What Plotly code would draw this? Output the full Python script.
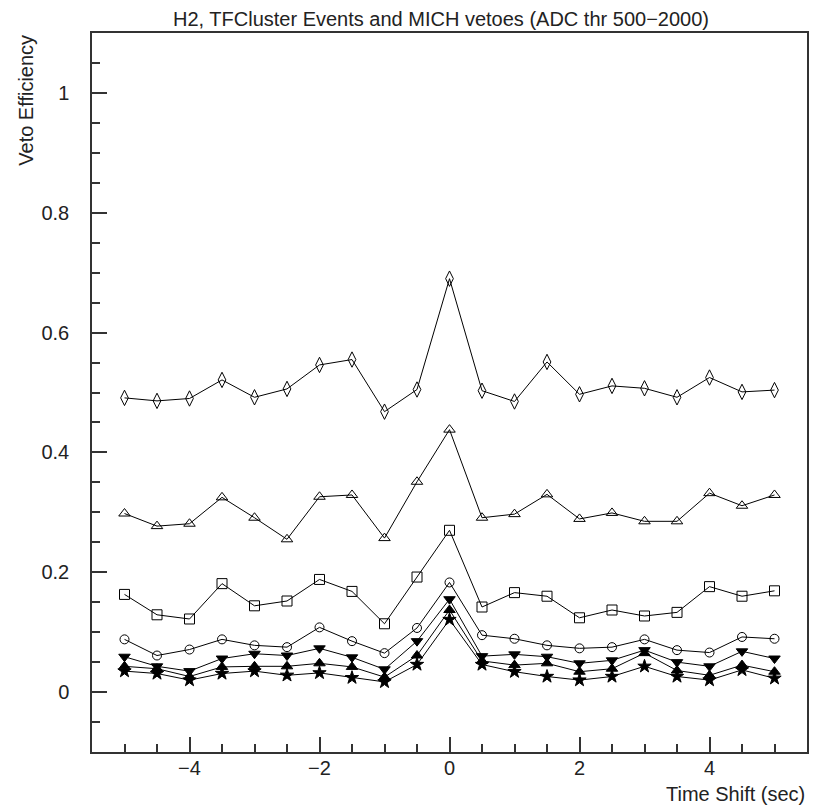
import plotly.graph_objects as go

time_shift = [-5, -4.5, -4, -3.5, -3, -2.5, -2, -1.5, -1, -0.5, 0,
              0.5, 1, 1.5, 2, 2.5, 3, 3.5, 4, 4.5, 5]

eff_diamond = [0.491, 0.486, 0.490, 0.521, 0.492, 0.506, 0.546, 0.555, 0.468, 0.505, 0.690,
               0.503, 0.485, 0.551, 0.497, 0.511, 0.507, 0.492, 0.525, 0.501, 0.504]
eff_tri_open = [0.298, 0.277, 0.281, 0.325, 0.291, 0.255, 0.326, 0.329, 0.257, 0.351, 0.438,
                0.291, 0.297, 0.330, 0.289, 0.299, 0.285, 0.285, 0.332, 0.311, 0.329]
eff_square = [0.163, 0.129, 0.122, 0.181, 0.144, 0.152, 0.188, 0.168, 0.114, 0.192, 0.270,
              0.142, 0.166, 0.160, 0.124, 0.137, 0.127, 0.133, 0.176, 0.160, 0.169]
eff_circle = [0.088, 0.061, 0.071, 0.088, 0.078, 0.075, 0.108, 0.085, 0.065, 0.107, 0.183,
              0.095, 0.089, 0.078, 0.073, 0.075, 0.088, 0.070, 0.066, 0.092, 0.089]
eff_tri_down = [0.059, 0.043, 0.035, 0.056, 0.064, 0.061, 0.073, 0.058, 0.038, 0.085, 0.155,
                0.060, 0.063, 0.059, 0.048, 0.053, 0.070, 0.050, 0.043, 0.068, 0.056]
eff_tri_up = [0.043, 0.039, 0.026, 0.042, 0.043, 0.043, 0.048, 0.042, 0.025, 0.061, 0.137,
              0.052, 0.045, 0.048, 0.034, 0.039, 0.065, 0.036, 0.028, 0.045, 0.034]
eff_star = [0.035, 0.031, 0.020, 0.031, 0.035, 0.028, 0.032, 0.024, 0.017, 0.046, 0.121,
            0.046, 0.034, 0.026, 0.020, 0.026, 0.043, 0.026, 0.020, 0.037, 0.023]

series = [
    (eff_diamond, "diamond-tall-open", 11),
    (eff_tri_open, "triangle-up-open", 10),
    (eff_square, "square-open", 10),
    (eff_circle, "circle-open", 9),
    (eff_tri_down, "triangle-down", 10),
    (eff_tri_up, "triangle-up", 10),
    (eff_star, "star", 10),
]

FONT = "Liberation Sans, Arial, sans-serif"

fig = go.Figure()
for vals, sym, sz in series:
    fig.add_trace(go.Scatter(
        x=time_shift, y=vals, mode="lines+markers",
        line=dict(color="black", width=1),
        marker=dict(symbol=sym, size=sz, color="black",
                    line=dict(color="black", width=1)),
        showlegend=False,
    ))

axis_common = dict(
    showline=True, linecolor="#333333", linewidth=1.5, mirror=True,
    showgrid=False, zeroline=False,
    ticks="inside", ticklen=15, tickwidth=1.5, tickcolor="#333333",
    tickfont=dict(family=FONT, size=20, color="#222222"),
)

fig.update_layout(
    width=816, height=806,
    margin=dict(l=92, r=7, t=33, b=54),
    paper_bgcolor="white", plot_bgcolor="white",
    xaxis=dict(range=[-5.5, 5.5], tick0=0, dtick=2,
               minor=dict(ticks="inside", ticklen=8, tickwidth=1.5, tickcolor="#333333",
                          tick0=0, dtick=0.5),
               ticklabelstandoff=-3,
               **axis_common),
    yaxis=dict(range=[-0.1, 1.1], tick0=0, dtick=0.2,
               minor=dict(ticks="inside", ticklen=8, tickwidth=1.5, tickcolor="#333333",
                          tick0=0, dtick=0.05),
               ticklabelstandoff=17,
               **axis_common),
    annotations=[
        dict(text="H2, TFCluster Events and MICH vetoes (ADC thr 500\u22122000)",
             xref="paper", yref="paper", x=(442 - 92) / 717.5, y=1 + (33 - 19) / 718.4,
             xanchor="center", yanchor="middle", showarrow=False,
             font=dict(family=FONT, size=20, color="#222222")),
        dict(text="Time Shift (sec)",
             xref="paper", yref="paper", x=1, y=-(794 - 751.7) / 718.4,
             xanchor="right", yanchor="middle", showarrow=False,
             font=dict(family=FONT, size=20, color="#222222")),
        dict(text="Veto Efficiency", textangle=-90,
             xref="paper", yref="paper", x=(25 - 92) / 717.5, y=1,
             xanchor="center", yanchor="top", showarrow=False,
             font=dict(family=FONT, size=20, color="#222222")),
    ],
)

fig.write_html("out.html")
